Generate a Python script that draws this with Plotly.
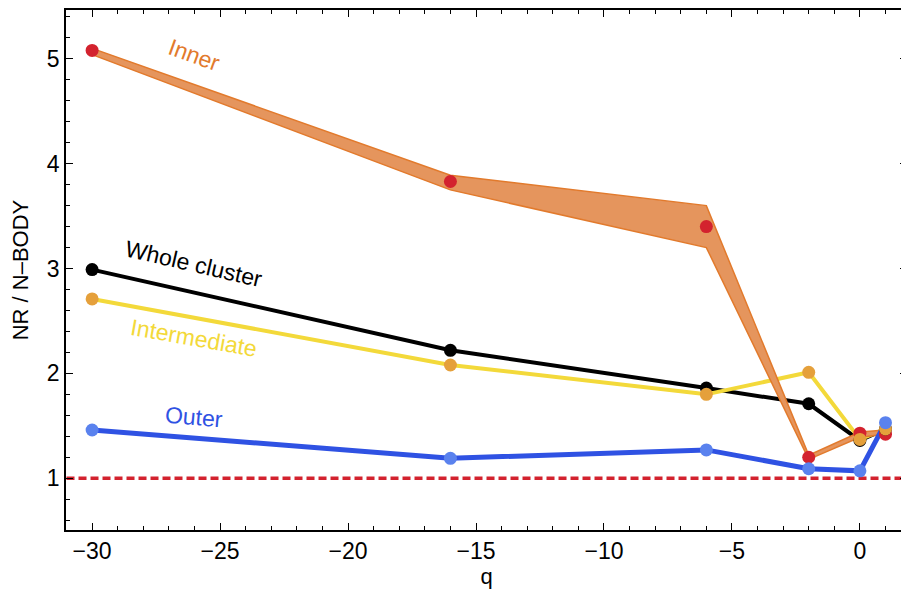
import plotly.graph_objects as go

# q values
q = [-30, -16, -6, -2, 0, 1]

# NR / N-body ratios
inner = [5.08, 3.83, 3.40, 1.20, 1.43, 1.42]
inner_hi = [5.10, 3.89, 3.60, 1.22, 1.44, 1.46]
inner_lo = [5.04, 3.75, 3.20, 1.18, 1.39, 1.42]
whole = [2.99, 2.22, 1.86, 1.71, 1.36, 1.47]
intermediate = [2.71, 2.08, 1.80, 2.01, 1.37, 1.47]
outer = [1.46, 1.19, 1.27, 1.09, 1.07, 1.53]

c_band = '#E5955D'
c_band_edge = '#E27A2C'
c_red = '#D3222E'
c_yellow = '#F3D93A'
c_orange_dot = '#E5A03B'
c_blue = '#2F52E3'
c_blue_dot = '#5A82EE'

font = 'Liberation Sans, Arial'

fig = go.Figure()

# reference line at 1
fig.add_trace(go.Scatter(x=[-31, 1.85], y=[1, 1], mode='lines', line=dict(color=c_red, width=3.5, dash='8px,4px'), showlegend=False))

fig.add_trace(go.Scatter(x=q, y=whole, mode='lines', line=dict(color='black', width=4), showlegend=False))
fig.add_trace(go.Scatter(x=q, y=intermediate, mode='lines', line=dict(color=c_yellow, width=4), showlegend=False))

# inner band
fig.add_trace(go.Scatter(x=q, y=inner_lo, mode='lines', line=dict(color=c_band_edge, width=1.5), showlegend=False))
fig.add_trace(go.Scatter(x=q, y=inner_hi, mode='lines', fill='tonexty', fillcolor=c_band, line=dict(color=c_band_edge, width=1.5), showlegend=False))

fig.add_trace(go.Scatter(x=q, y=outer, mode='lines', line=dict(color=c_blue, width=5), showlegend=False))

# markers
fig.add_trace(go.Scatter(x=q, y=inner, mode='markers', marker=dict(color=c_red, size=13), showlegend=False))
fig.add_trace(go.Scatter(x=q, y=whole, mode='markers', marker=dict(color='black', size=13), showlegend=False))
fig.add_trace(go.Scatter(x=q, y=intermediate, mode='markers', marker=dict(color=c_orange_dot, size=13), showlegend=False))
fig.add_trace(go.Scatter(x=q, y=outer, mode='markers', marker=dict(color=c_blue_dot, size=13), showlegend=False))

labels = [
    ('Inner', -26, 5.04, 20, c_band_edge),
    ('Whole cluster', -26, 3.04, 13, 'black'),
    ('Intermediate', -26, 2.34, 10, c_yellow),
    ('Outer', -26, 1.58, 5, c_blue),
]
for txt, x, y, ang, col in labels:
    fig.add_annotation(x=x, y=y, text=txt, showarrow=False, textangle=ang,
                       font=dict(family=font, size=23, color=col))

axis_common = dict(
    showline=True, linecolor='black', linewidth=1.5, mirror='allticks',
    ticks='inside', ticklen=7, tickwidth=1, tickcolor='black',
    showgrid=False, zeroline=False,
    tickfont=dict(family=font, size=23, color='black'),
)

fig.update_layout(
    width=901, height=591,
    margin=dict(l=58, r=2, t=0, b=69),
    plot_bgcolor='white', paper_bgcolor='white',
    xaxis=dict(
        range=[-31.02, 1.84], tickvals=[-30, -25, -20, -15, -10, -5, 0],
        ticktext=['\u221230', '\u221225', '\u221220', '\u221215', '\u221210', '\u22125', '0'],
        minor=dict(ticks='inside', ticklen=4, dtick=1, tickcolor='black', showgrid=False),
        title=dict(text='q', font=dict(family=font, size=22, color='black'), standoff=4),
        **axis_common
    ),
    yaxis=dict(
        range=[0.506, 5.466], tickvals=[1, 2, 3, 4, 5],
        minor=dict(ticks='inside', ticklen=4, dtick=0.2, tick0=0, tickcolor='black', showgrid=False),
        title=dict(text='NR / N\u2013BODY', font=dict(family=font, size=22, color='black'), standoff=12),
        **axis_common
    ),
)

fig.write_html('out.html')
